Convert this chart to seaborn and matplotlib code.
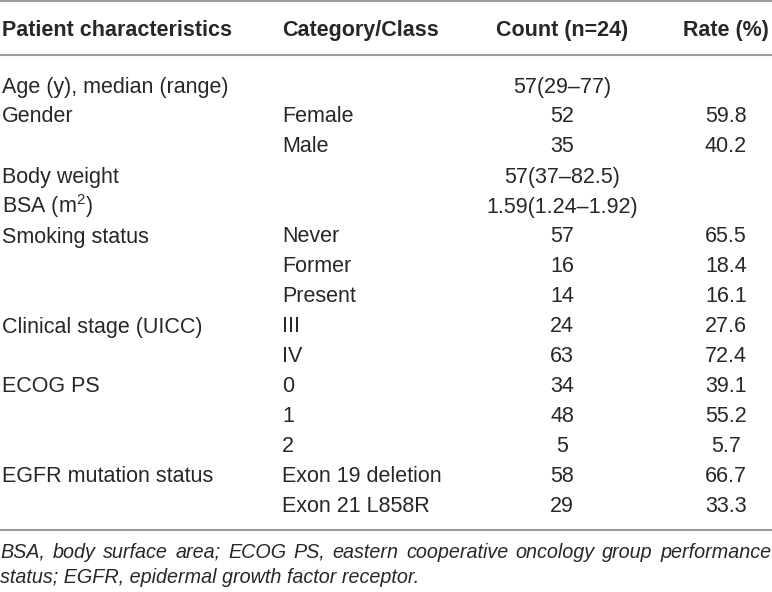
import matplotlib
matplotlib.use("Agg")
import matplotlib.pyplot as plt
import seaborn as sns

# table contents
headers = ["Patient characteristics", "Category/Class", "Count (n=24)", "Rate (%)"]
characteristics = ["Age (y), median (range)", "Gender", "", "Body weight", "BSA (m$^2$)",
                   "Smoking status", "", "", "Clinical stage (UICC)", "", "ECOG PS", "", "",
                   "EGFR mutation status", ""]
categories = ["", "Female", "Male", "", "", "Never", "Former", "Present", "III", "IV",
              "0", "1", "2", "Exon 19 deletion", "Exon 21 L858R"]
counts = ["57(29–77)", "52", "35", "57(37–82.5)", "1.59(1.24–1.92)", "57", "16", "14",
          "24", "63", "34", "48", "5", "58", "29"]
rates = ["", "59.8", "40.2", "", "", "65.5", "18.4", "16.1", "27.6", "72.4", "39.1",
         "55.2", "5.7", "66.7", "33.3"]
footnote = ["BSA, body surface area; ECOG PS, eastern cooperative oncology group performance",
            "status; EGFR, epidermal growth factor receptor."]

sns.set_theme(style="white")
plt.rcParams['font.family'] = ['Liberation Sans', 'DejaVu Sans']
plt.rcParams['mathtext.fontset'] = 'custom'
plt.rcParams['mathtext.rm'] = 'Liberation Sans'

W, H = 772, 592
fig = plt.figure(figsize=(W / 100, H / 100), dpi=100)
ax = fig.add_axes([0, 0, 1, 1])
ax.set_xlim(0, W)
ax.set_ylim(H, 0)
ax.axis('off')

ink = '#2a2627'
rule = '#9a9a9a'
fs = 15.5

# rules
for y in [1, 55, 530]:
    ax.axhline(y, color=rule, lw=1.5)

# header
col_x = [2, 282, 562, 726]
col_ha = ['left', 'left', 'center', 'center']
for x, ha, h in zip(col_x, col_ha, headers):
    ax.text(x, 36, h, ha=ha, va='baseline', fontsize=fs, fontweight='bold', color=ink)

# body
for i in range(len(counts)):
    yb = 85 + 30 * i + 7.5
    for x, ha, val in zip(col_x, col_ha, [characteristics[i], categories[i], counts[i], rates[i]]):
        if val:
            ax.text(x, yb, val, ha=ha, va='baseline', fontsize=fs, color=ink)

# footnote, first line justified
fig.canvas.draw()
r = fig.canvas.get_renderer()
fn_fs = 14.2
words = footnote[0].split(' ')
items = [ax.text(0, 558, w, ha='left', va='baseline', fontsize=fn_fs, style='italic', color=ink)
         for w in words]
widths = [t.get_window_extent(renderer=r).width for t in items]
gap = (W - 1 - sum(widths)) / (len(words) - 1)
x = 0.5
for t, w in zip(items, widths):
    t.set_x(x)
    x += w + gap
ax.text(0.5, 583, footnote[1], ha='left', va='baseline', fontsize=fn_fs, style='italic', color=ink)

plt.savefig('out.png', dpi=100)
